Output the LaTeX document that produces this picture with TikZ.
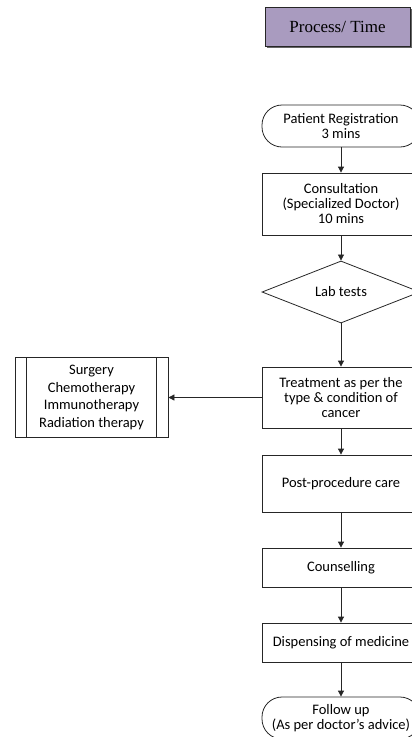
\documentclass[tikz,border=0pt]{standalone}
\usepackage{fontspec}
\setmainfont{Carlito}
\newfontfamily\headfont{Liberation Serif}
\usetikzlibrary{arrows.meta,shapes.geometric,shadows}
\definecolor{ink}{HTML}{262626}
\definecolor{lilac}{HTML}{A99BBF}
\tikzset{
  box/.style={draw=ink,line width=0.8pt,fill=white,align=center,
    font=\fontsize{14.5}{15}\selectfont,minimum width=158pt,inner sep=2pt},
  term/.style={box,rounded corners=20pt,minimum height=42pt},
  decide/.style={box,diamond,minimum width=158pt,minimum height=60pt,inner sep=0pt},
  subproc/.style={box,minimum width=153pt,minimum height=80pt,
    font=\fontsize{14.5}{17.5}\selectfont},
  head/.style={draw=ink,line width=0.8pt,fill=lilac,font=\headfont\fontsize{17}{20}\selectfont,
    minimum width=145pt,minimum height=39pt,
    drop shadow={shadow xshift=1.5pt,shadow yshift=-1.5pt,fill=black!60,opacity=1}},
  arr/.style={-{Triangle[length=6pt,width=6pt]},line width=0.8pt,draw=ink},
}
\begin{document}
\begin{tikzpicture}[x=1pt,y=-1pt]
  \clip (0,0) rectangle (412,737);
  \node[head] (hdr) at (337.5,26.5) {Process/ Time};
  % main column
  \node[term] (reg) at (341,126) {Patient Registration\\3 mins};
  \node[box,minimum height=62pt] (consult) at (341,204) {Consultation\\(Specialized Doctor)\\10 mins};
  \node[decide] (lab) at (341,292) {Lab tests};
  \node[box,minimum height=61pt] (treat) at (341,397.5) {Treatment as per the\\type \& condition of\\cancer};
  \node[box,minimum height=57pt] (post) at (341,483.5) {Post-procedure care};
  \node[box,minimum height=39pt] (couns) at (341,567.5) {Counselling};
  \node[box,minimum height=39pt] (disp) at (341,642.5) {Dispensing of medicine};
  \node[term] (follow) at (341,718) {Follow up\\(As per doctor’s advice)};
  % treatment options
  \node[subproc] (opts) at (91.5,397.5) {Surgery\\Chemotherapy\\Immunotherapy\\Radiation therapy};
  \draw[draw=ink,line width=0.8pt] ([xshift=12pt]opts.north west) -- ([xshift=12pt]opts.south west);
  \draw[draw=ink,line width=0.8pt] ([xshift=-12pt]opts.north east) -- ([xshift=-12pt]opts.south east);
  \draw[arr] (reg) -- (consult);
  \draw[arr] (consult) -- (lab);
  \draw[arr] (lab) -- (treat);
  \draw[arr] (treat) -- (post);
  \draw[arr] (post) -- (couns);
  \draw[arr] (couns) -- (disp);
  \draw[arr] (disp) -- (follow);
  \draw[arr] (treat) -- (opts);
\end{tikzpicture}
\end{document}
